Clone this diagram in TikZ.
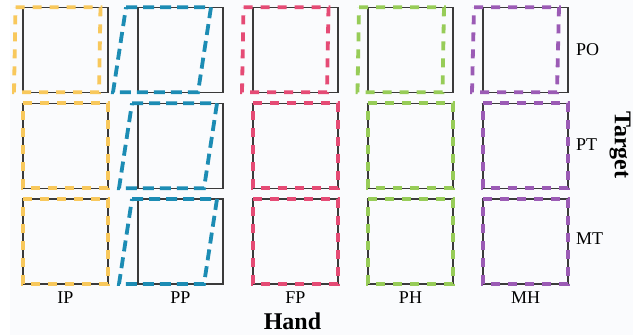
\documentclass[tikz,border=0pt]{standalone}
\usepackage{fontspec}
\setmainfont{Liberation Serif}
\definecolor{framegray}{HTML}{3A3A3A}
\definecolor{bgtint}{HTML}{FAFBFD}
\definecolor{cIP}{HTML}{F8C85C}
\definecolor{cPP}{HTML}{1C8CB4}
\definecolor{cFP}{HTML}{E54B75}
\definecolor{cPH}{HTML}{97CC58}
\definecolor{cMH}{HTML}{9B5BB5}
% one hand trace: style, left edge of its frame, top edge, shift of the lower and of the upper side
\newcommand{\handtrace}[5]{%
  \draw[trace,#1] ({#2+#5},{#3}) -- ({#2+85+#5},{#3}) -- ({#2+85+#4},{#3+85})
    -- ({#2+#4},{#3+85}) -- cycle;}
\begin{document}
\begin{tikzpicture}[x=1pt,y=-1pt,
  frame/.style={draw=framegray,line width=1.4pt},
  trace/.style={line width=3.8pt,dash pattern=on 9pt off 8pt},
  longtrace/.style={cPP,dash pattern=on 11pt off 6pt},
  lbl/.style={font=\fontsize{18}{20}\selectfont,text=black,inner sep=0pt},
  axis/.style={font=\bfseries\fontsize{24}{26}\selectfont,text=black,inner sep=0pt}]
\fill[white] (0,0) rectangle (633,335);
\fill[bgtint] (10,0) rectangle (633,335);
\useasboundingbox (0,0) rectangle (633,335);

% target frames
\foreach \cx in {23,138,253,368,483}
  \foreach \ty in {7.3,103.3,199}
    \draw[frame] (\cx,\ty) rectangle ++(85,85);

% PO row: traces shifted to the left
\handtrace{cIP}{23}{7.3}{-9}{-7.5}
\handtrace{longtrace}{138}{7.3}{-25}{-12}
\handtrace{cFP}{253}{7.3}{-11}{-9.5}
\handtrace{cPH}{368}{7.3}{-10.5}{-9}
\handtrace{cMH}{483}{7.3}{-11}{-9}

% PT and MT rows: traces on the frames, PP slanted
\foreach \ty in {103.3,199}{
  \handtrace{cIP}{23}{\ty}{0}{0}
  \handtrace{longtrace}{138}{\ty}{-19}{-6}
  \handtrace{cFP}{253}{\ty}{0}{0}
  \handtrace{cPH}{368}{\ty}{0}{0}
  \handtrace{cMH}{483}{\ty}{0}{0}
}

% column labels
\node[lbl] (ip) at (65.5,298) {IP};
\node[lbl] (pp) at (180.5,298) {PP};
\node[lbl] (fp) at (295.5,298) {FP};
\node[lbl] (ph) at (410.5,298) {PH};
\node[lbl] (mh) at (525.5,298) {MH};

% row labels
\node[lbl,anchor=west] (po) at (576,50) {PO};
\node[lbl,anchor=west] (pt) at (576,145) {PT};
\node[lbl,anchor=west] (mt) at (576,239) {MT};

% axis titles
\node[axis] (hand) at (292.5,321) {Hand};
\node[axis,rotate=-90] (target) at (620,145) {Target};
\end{tikzpicture}
\end{document}
